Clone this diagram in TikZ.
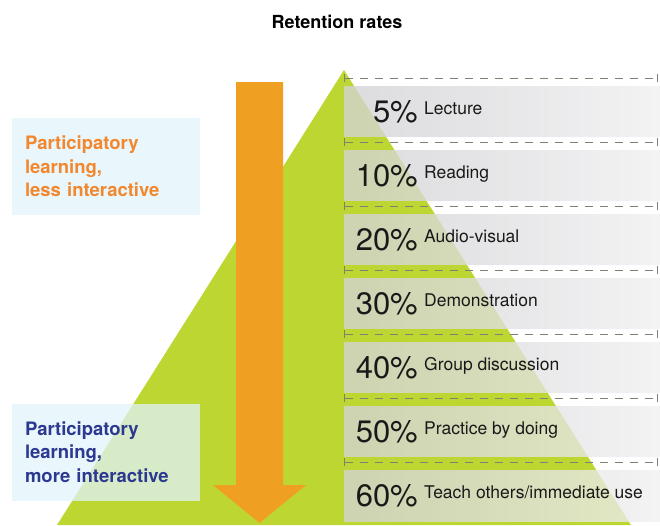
\documentclass[tikz,border=0pt]{standalone}
\usepackage{fontspec}
\setmainfont{TeX Gyre Heros}
\usetikzlibrary{arrows.meta}

\definecolor{pyrgreen}{RGB}{189,214,50}
\definecolor{arroworange}{RGB}{239,160,35}
\definecolor{lessorange}{RGB}{242,135,45}
\definecolor{moreblue}{RGB}{43,57,144}
\definecolor{boxblue}{RGB}{225,243,251}
\definecolor{sepgray}{RGB}{128,128,115}
\definecolor{bandgray}{RGB}{198,198,202}

\pgfdeclarehorizontalshading{bandfade}{100bp}{color(0bp)=(bandgray); color(45bp)=(bandgray!60!white); color(100bp)=(white)}

\tikzset{
  band/.style={shading=bandfade, shading angle=0, fill opacity=0.78, draw=none},
  sep/.style={sepgray, line width=0.9pt, dash pattern=on 8pt off 7pt, {Bar[width=8pt]}-{Bar[width=8pt]}},
  pct/.style={anchor=base east, inner sep=0pt, text=black!90, font=\fontsize{31}{31}\selectfont},
  what/.style={anchor=base west, inner sep=0pt, text=black!90, font=\fontsize{17.5}{18}\selectfont},
  sidebox/.style={fill=boxblue, fill opacity=0.75, text opacity=1, minimum width=188pt, minimum height=97pt,
    inner xsep=13pt, text width=162pt, align=left, font=\bfseries\fontsize{18.5}{23.5}\selectfont}
}

\begin{document}
\begin{tikzpicture}[x=1pt, y=-1pt]

    \useasboundingbox (0,0) rectangle (660,525);

    \node[font=\bfseries\fontsize{18}{18}\selectfont] (title) at (337,22) {Retention rates};

    % pyramid
    \fill[pyrgreen] (344,70) -- (631,525) -- (57,525) -- cycle;

    % bands
    \shade[band] (344,86) rectangle (660,136);
    \shade[band] (344,150) rectangle (660,200);
    \shade[band] (344,214) rectangle (660,264);
    \shade[band] (344,278) rectangle (660,328);
    \shade[band] (344,342) rectangle (660,392);
    \shade[band] (344,406) rectangle (660,456);
    \shade[band] (344,470) rectangle (660,521);

    \draw[sep] (344,78) -- (658,78);
    \draw[sep] (344,142) -- (658,142);
    \draw[sep] (344,206) -- (658,206);
    \draw[sep] (344,270) -- (658,270);
    \draw[sep] (344,334) -- (658,334);
    \draw[sep] (344,398) -- (658,398);
    \draw[sep] (344,462) -- (658,462);

    \node[pct] (p5) at (418,122) {5\%};
    \node[what] (lecture) at (424,114) {Lecture};
    \node[pct] (p10) at (418,186) {10\%};
    \node[what] (reading) at (424,178) {Reading};
    \node[pct] (p20) at (418,250) {20\%};
    \node[what] (audio) at (424,242) {Audio-visual};
    \node[pct] (p30) at (418,314) {30\%};
    \node[what] (demo) at (424,306) {Demonstration};
    \node[pct] (p40) at (418,378) {40\%};
    \node[what] (group) at (424,370) {Group discussion};
    \node[pct] (p50) at (418,442) {50\%};
    \node[what] (practice) at (424,434) {Practice by doing};
    \node[pct] (p60) at (418,506) {60\%};
    \node[what] (teach) at (424,498) {Teach others/immediate use};

    % big arrow
    \fill[arroworange] (236,82) -- (283,82) -- (283,485) -- (306,485) -- (259.5,523)
        -- (213,485) -- (236,485) -- cycle;

    \node[sidebox, text=lessorange] (less) at (106,166.5) {Participatory\\learning,\\less interactive};
    \node[sidebox, text=moreblue] (more) at (106,452) {Participatory\\learning,\\more interactive};

\end{tikzpicture}
\end{document}
